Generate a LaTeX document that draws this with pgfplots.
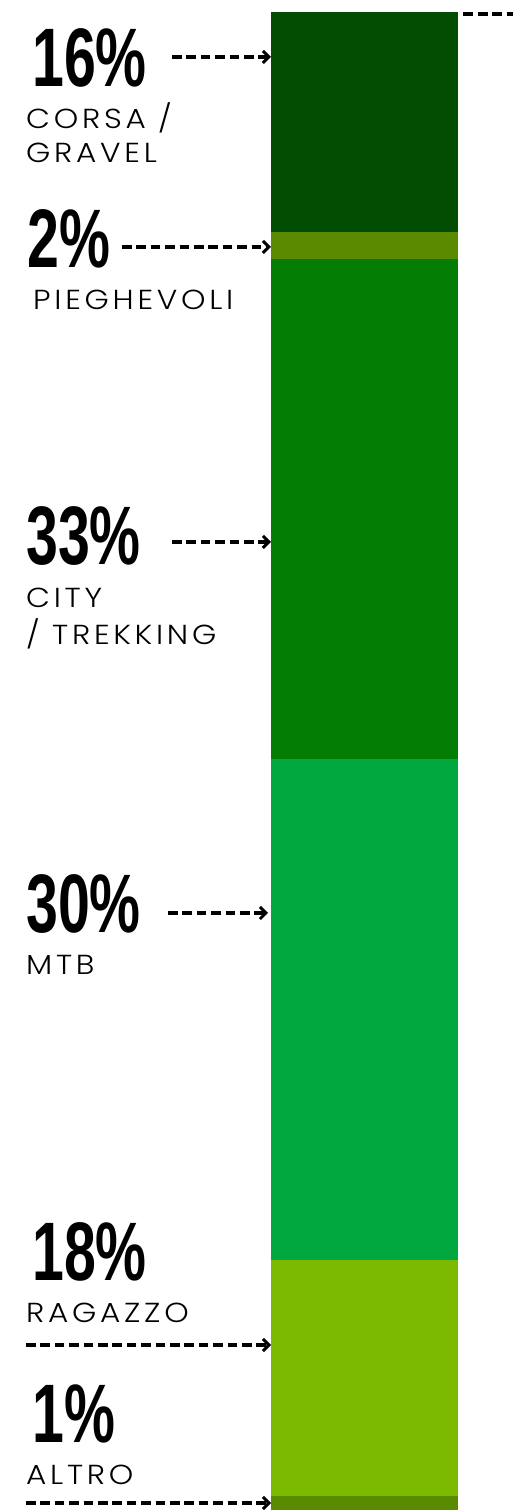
\documentclass[border=0pt]{standalone}
\usepackage{fontspec}
\usepackage{pgfplots}
\pgfplotsset{compat=1.18}
\usetikzlibrary{arrows.meta}
\setmainfont{Liberation Sans}
\newfontfamily\numfont{Liberation Sans}[UprightFont=* Bold]
\newfontfamily\labfont{Poppins Light}[LetterSpace=12]
\definecolor{cCorsa}{HTML}{034D03}
\definecolor{cPieg}{HTML}{5A8A00}
\definecolor{cCity}{HTML}{037D03}
\definecolor{cMtb}{HTML}{00A83F}
\definecolor{cRag}{HTML}{7CBA00}
\definecolor{cAltro}{HTML}{5A8A00}
\newcommand{\bignum}[1]{\scalebox{0.69}[1]{\fontsize{83}{83}\numfont #1}}
\newcommand{\lab}[1]{\scalebox{1.13}[1]{\fontsize{27.5}{27.5}\labfont #1}}
\begin{document}
\begin{tikzpicture}[x=1pt,y=1pt]
\useasboundingbox (0,0) rectangle (513,1510);
\begin{axis}[
  at={(271pt,0pt)}, anchor=south west,
  width=187pt, height=1498pt, scale only axis,
  ybar stacked, bar width=187pt,
  xmin=-0.5, xmax=0.5, ymin=0, ymax=100,
  axis lines=none, ticks=none,
  clip=false,
]
\addplot[fill=cAltro, draw=none] coordinates {(0,0.93)};
\addplot[fill=cRag, draw=none] coordinates {(0,15.75)};
\addplot[fill=cMtb, draw=none] coordinates {(0,33.45)};
\addplot[fill=cCity, draw=none] coordinates {(0,33.38)};
\addplot[fill=cPieg, draw=none] coordinates {(0,1.80)};
\addplot[fill=cCorsa, draw=none] coordinates {(0,14.69)};
\end{axis}
\tikzset{arr/.style={line width=3.5pt, dash pattern=on 9.6pt off 4.8pt, -{Straight Barb[length=6pt,width=12pt,line width=3pt]}}}
% arrows
\draw[arr] (172,1453) -- (271,1453);
\draw[arr] (122,1263) -- (271,1263);
\draw[arr] (172,968) -- (271,968);
\draw[arr] (168,597) -- (268,597);
\draw[arr] (26,165) -- (271,165);
\draw[arr] (26,7) -- (271,7);
\draw[line width=3.5pt, dash pattern=on 10pt off 4.5pt] (463,1496) -- (513,1496);
% numbers
\node[anchor=base west, inner sep=0] at (32,1423) {\bignum{16\%}};
\node[anchor=base west, inner sep=0] at (27,1242) {\bignum{2\%}};
\node[anchor=base west, inner sep=0] at (26,945) {\bignum{33\%}};
\node[anchor=base west, inner sep=0] at (26,577) {\bignum{30\%}};
\node[anchor=base west, inner sep=0] at (32,229) {\bignum{18\%}};
\node[anchor=base west, inner sep=0] at (32,67) {\bignum{1\%}};
% labels
\node[anchor=base west, inner sep=0] at (26,1381) {\lab{CORSA /}};
\node[anchor=base west, inner sep=0] at (26,1347) {\lab{GRAVEL}};
\node[anchor=base west, inner sep=0] at (33,1200) {\lab{PIEGHEVOLI}};
\node[anchor=base west, inner sep=0] at (26,902) {\lab{CITY}};
\node[anchor=base west, inner sep=0] at (26,865) {\lab{/ TREKKING}};
\node[anchor=base west, inner sep=0] at (26,535) {\lab{MTB}};
\node[anchor=base west, inner sep=0] at (26,187) {\lab{RAGAZZO}};
\node[anchor=base west, inner sep=0] at (26,25) {\lab{ALTRO}};
\end{tikzpicture}
\end{document}
